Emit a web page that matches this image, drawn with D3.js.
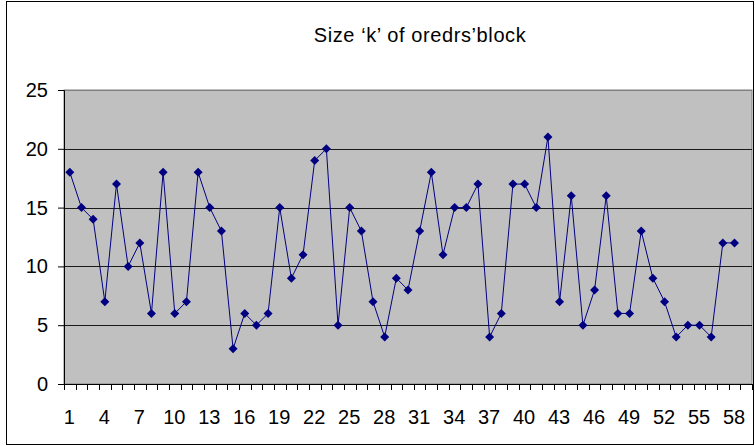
<!DOCTYPE html>
<html>
<head>
<meta charset="utf-8">
<style>
body { margin: 0; background: #fff; }
text { font-family: "Liberation Sans", Arial, sans-serif; fill: #000; }
</style>
<script src="https://cdn.jsdelivr.net/npm/d3@7"></script>
</head>
<body>
<svg width="755" height="446"></svg>
<script>
var title = "Size \u2018k\u2019 of oredrs\u2019block";
// 59 category slots on the axis, the last one holds no value
var categories = d3.range(1, 60);
var values = [18, 15, 14, 7, 17, 10, 12, 6, 18, 6, 7, 18, 15, 13, 3, 6, 5, 6, 15, 9,
              11, 19, 20, 5, 15, 13, 7, 4, 9, 8, 13, 18, 11, 15, 15, 17, 4, 6, 17, 17,
              15, 21, 7, 16, 5, 8, 16, 6, 6, 13, 9, 7, 4, 5, 5, 4, 12, 12];
var yTicks = [0, 5, 10, 15, 20, 25];
var xLabels = [1, 4, 7, 10, 13, 16, 19, 22, 25, 28, 31, 34, 37, 40, 43, 46, 49, 52, 55, 58];

var svg = d3.select("svg"),
    margin = {top: 90, right: 3, bottom: 62, left: 64},
    width = 755 - margin.left - margin.right,
    height = 446 - margin.top - margin.bottom;

// outer chart border
svg.append("rect")
    .attr("x", 6.5).attr("y", 1.5)
    .attr("width", 747).attr("height", 443)
    .attr("fill", "none").attr("stroke", "#000").attr("stroke-width", 1);

svg.append("text")
    .attr("x", 420).attr("y", 42)
    .attr("text-anchor", "middle")
    .style("font-size", "20px")
    .style("letter-spacing", "0.6px")
    .text(title);

var g = svg.append("g").attr("transform", "translate(" + margin.left + "," + margin.top + ")");

var x = d3.scaleBand().domain(categories).range([0, width]);
var y = d3.scaleLinear().domain([0, 25]).range([height, 0]);

g.append("rect")
    .attr("width", width).attr("height", height)
    .attr("fill", "#c0c0c0")
    .attr("stroke", "#808080");

g.selectAll(".grid")
    .data(yTicks.filter(function(d) { return d > 0; }))
    .enter().append("line")
      .attr("class", "grid")
      .attr("x1", 0).attr("x2", width)
      .attr("y1", function(d) { return Math.round(y(d)) + 0.5; })
      .attr("y2", function(d) { return Math.round(y(d)) + 0.5; })
      .attr("stroke", function(d) { return d === 25 ? "#808080" : "#1a1a1a"; });

// y axis
var yAxis = g.append("g")
    .call(d3.axisLeft(y).tickValues(yTicks).tickSize(6).tickPadding(10));
yAxis.select(".domain").attr("stroke", "#000");
yAxis.selectAll("text").style("font-size", "20px");

// x axis: ticks at category boundaries, labels every 3rd category
var xAxis = g.append("g").attr("transform", "translate(0," + height + ")");
xAxis.append("line")
    .attr("x1", 0).attr("x2", width)
    .attr("y1", 0.5).attr("y2", 0.5)
    .attr("stroke", "#000");
xAxis.selectAll(".tick")
    .data(d3.range(0, categories.length + 1))
    .enter().append("line")
      .attr("class", "tick")
      .attr("x1", function(i) { return Math.round(i * x.step()) + 0.5; })
      .attr("x2", function(i) { return Math.round(i * x.step()) + 0.5; })
      .attr("y1", 0).attr("y2", 6)
      .attr("stroke", "#000");
xAxis.selectAll(".lab")
    .data(xLabels)
    .enter().append("text")
      .attr("class", "lab")
      .attr("x", function(d) { return x(d) + x.bandwidth() / 2 - 0.5; })
      .attr("y", 40)
      .attr("text-anchor", "middle")
      .style("font-size", "20px")
      .text(function(d) { return d; });

var line = d3.line()
    .x(function(d, i) { return x(categories[i]) + x.bandwidth() / 2; })
    .y(function(d) { return y(d); });

g.append("path")
    .attr("d", line(values))
    .attr("fill", "none")
    .attr("stroke", "#000080")
    .attr("stroke-width", 1);

g.selectAll(".pt")
    .data(values)
    .enter().append("path")
      .attr("class", "pt")
      .attr("transform", function(d, i) {
        return "translate(" + (x(categories[i]) + x.bandwidth() / 2) + "," + y(d) + ")";
      })
      .attr("d", "M0,-4.5L4.5,0L0,4.5L-4.5,0Z")
      .attr("fill", "#000080");
</script>
</body>
</html>
